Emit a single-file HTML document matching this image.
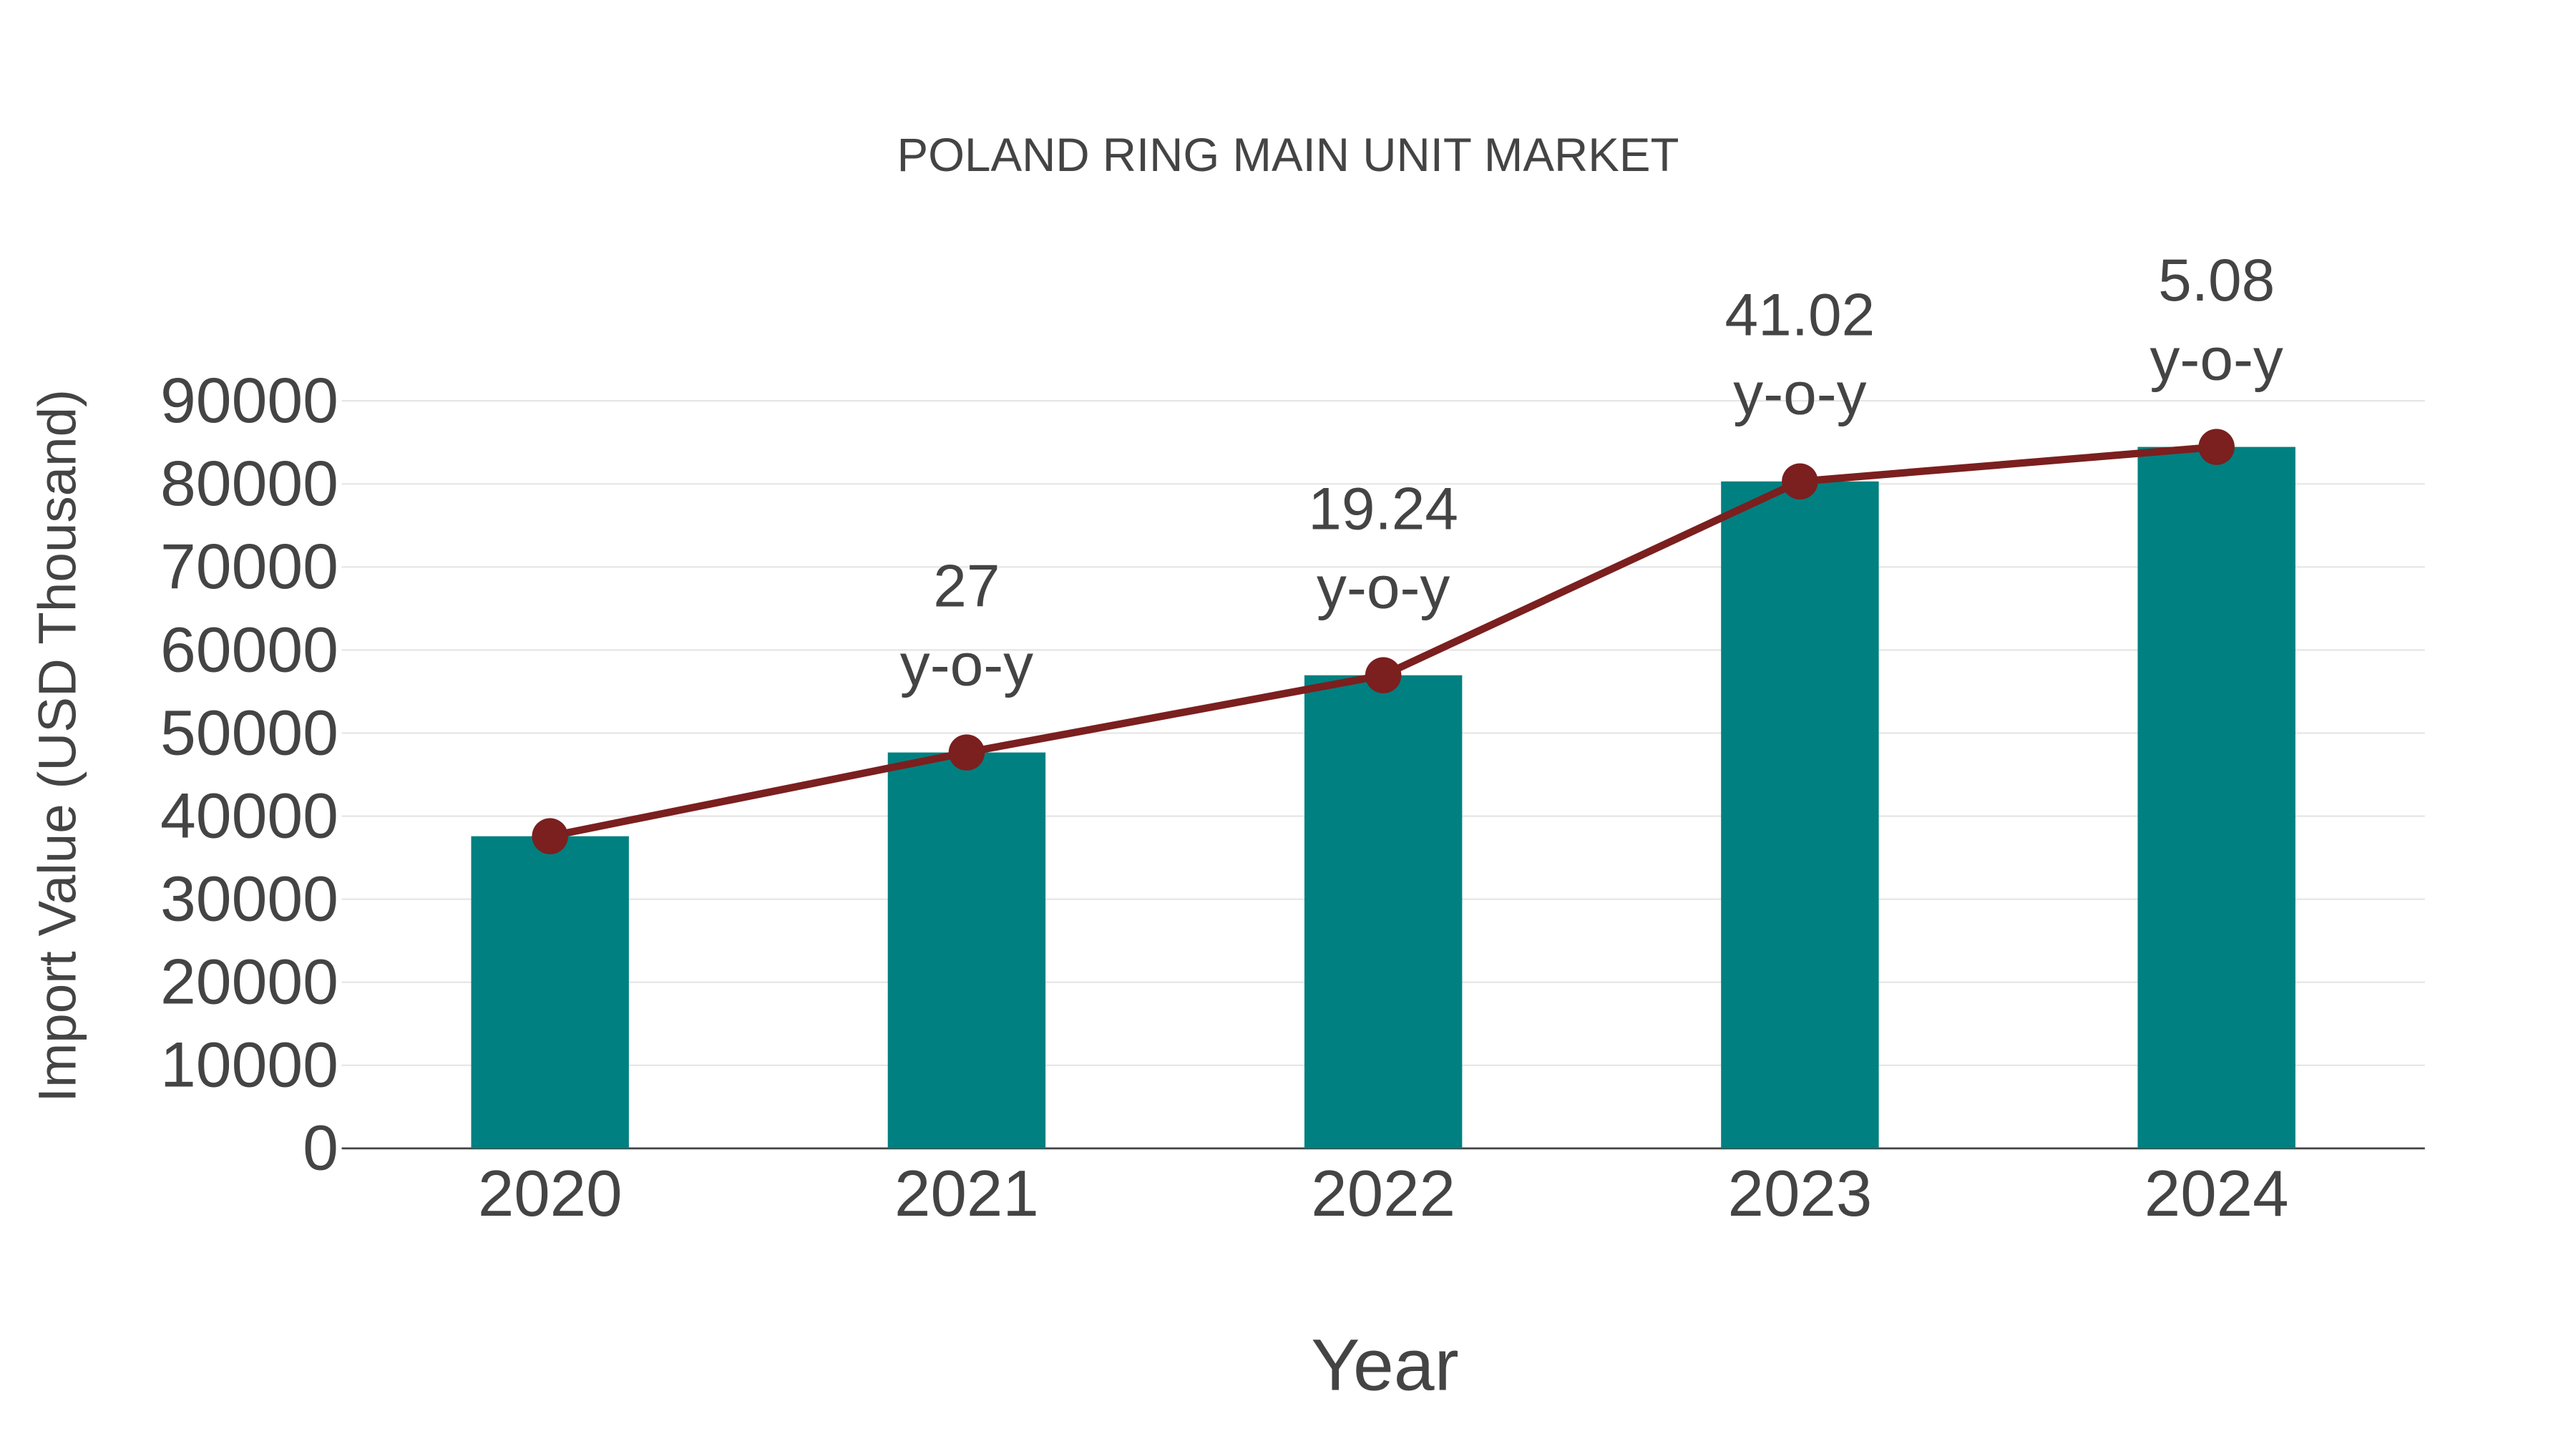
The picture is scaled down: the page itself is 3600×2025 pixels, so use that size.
<!DOCTYPE html>
<html><head><meta charset="utf-8"><style>
html,body{margin:0;padding:0;background:#fff}
svg{display:block}
text{font-family:"Liberation Sans",sans-serif;fill:#444}
</style></head><body>
<svg id="chart" width="3600" height="2025" viewBox="0 0 1568 882" xmlns="http://www.w3.org/2000/svg">
<text x="784" y="104" font-size="28.5" text-anchor="middle">POLAND RING MAIN UNIT MARKET</text>
<g id="grid"></g>
<g id="bars"></g>
<g id="line"></g>
<g id="labels"></g>
<text transform="translate(46,454) rotate(-90)" font-size="32.5" text-anchor="middle">Import Value (USD Thousand)</text>
<text x="843" y="846" font-size="44.5" text-anchor="middle">Year</text>
</svg>
<script>
const categories=["2020","2021","2022","2023","2024"];
const values=[37580,47665,56962,80300,84454];
const yoyLabels=["","27","19.24","41.02","5.08"];
const yTicks=[0,10000,20000,30000,40000,50000,60000,70000,80000,90000];
const NS="http://www.w3.org/2000/svg";
const L=208,R=1476,Y0=699,Y90=244;
const y=v=>Y0-(v/90000)*(Y0-Y90);
const bw=(R-L)/categories.length;
const x=i=>L+bw*(i+0.5);
function mk(tag,attrs,parent,txt){const e=document.createElementNS(NS,tag);for(const k in attrs)e.setAttribute(k,attrs[k]);if(txt!==undefined)e.textContent=txt;document.getElementById(parent).appendChild(e);return e;}
yTicks.forEach(t=>{
  if(t>0){const g=mk('line',{x1:L,x2:R,y1:y(t),y2:y(t),stroke:'#e6e6e6','stroke-width':1},'grid');
  
  }
  const tl=mk('text',{x:L-2,y:y(t)+13,'font-size':39,'text-anchor':'end'},'grid',String(t));
  
  
});
const ax=mk('line',{x1:L,x2:R,y1:Y0,y2:Y0,stroke:'#444','stroke-width':1.2},'grid');


categories.forEach((c,i)=>{
  const b=mk('rect',{x:x(i)-48,y:y(values[i]),width:96,height:Y0-y(values[i]),fill:'#008080'},'bars');
  
  
  const t=mk('text',{x:x(i),y:740,'font-size':39.5,'text-anchor':'middle'},'labels',c);
  
  
  if(yoyLabels[i]){
    const a=mk('text',{x:x(i),y:y(values[i])-89,'font-size':36.5,'text-anchor':'middle'},'labels',yoyLabels[i]);
    
    
    const b2=mk('text',{x:x(i),y:y(values[i])-41,'font-size':36.5,'text-anchor':'middle'},'labels','y-o-y');
    
    
  }
});
const pl=mk('polyline',{points:values.map((v,i)=>x(i)+','+y(v)).join(' '),fill:'none',stroke:'#7b1f1f','stroke-width':4.5},'line');


values.forEach((v,i)=>{
  const c=mk('circle',{cx:x(i),cy:y(v),r:11,fill:'#7b1f1f'},'line');
  
  
});
</script>
</body></html>
